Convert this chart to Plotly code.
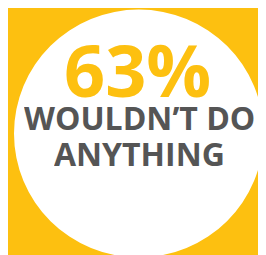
import plotly.graph_objects as go

percent_value = [63]
label_lines = ["WOULDN’T DO", "ANYTHING"]
yellow = "#FDC010"
gray = "#555555"

W, H = 266, 255
fig = go.Figure()
fig.add_shape(type="circle", xref="x", yref="y", x0=6, x1=255.5, y0=H-249.5, y1=H-1.5,
              fillcolor="white", line=dict(width=0), layer="below")
fig.add_annotation(x=129.5, y=H-61, xref="x", yref="y", text=f"<b>{percent_value[0]}%</b>",
                   showarrow=False, yanchor="middle", height=60, valign="middle",
                   font=dict(family="Open Sans", size=72, color=yellow))
for i, line in enumerate(label_lines):
    fig.add_annotation(x=131, y=H-(109 + 36*i), xref="x", yref="y", text=f"<b>{line}</b>",
                       showarrow=False, yanchor="middle", height=34, valign="middle",
                       font=dict(family="Open Sans", size=32, color=gray))
fig.update_layout(width=W, height=H, margin=dict(l=0, r=0, t=0, b=0),
                  paper_bgcolor=yellow, plot_bgcolor=yellow, showlegend=False,
                  xaxis=dict(range=[0, W], visible=False, fixedrange=True),
                  yaxis=dict(range=[0, H], visible=False, fixedrange=True))
fig.write_html("out.html", config={"displayModeBar": False})
